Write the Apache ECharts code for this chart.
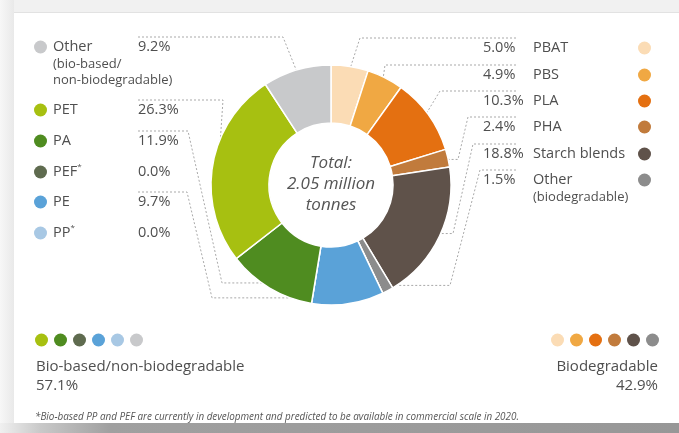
<!DOCTYPE html>
<html>
<head>
<meta charset="utf-8">
<title>Bioplastics production capacities by material type</title>
<script src="https://cdn.jsdelivr.net/npm/echarts@6/dist/echarts.min.js"></script>
<style>
  html, body { margin: 0; padding: 0; width: 679px; height: 433px; overflow: hidden; background: #f2f2f2; }
  #frameLeft { position: absolute; left: 0; top: 0; width: 14px; height: 433px; background: linear-gradient(to right, #f7f7f7, #e9e9e9); }
  #frameTop { position: absolute; left: 0; top: 0; width: 679px; height: 12px; background: #f1f1f1; border-bottom: 1px solid #e2e2e2; }
  #card { position: absolute; left: 14px; top: 13px; width: 665px; height: 410px; background: #ffffff; }
  #bottomBar { position: absolute; left: 0; top: 423px; width: 679px; height: 10px; background: linear-gradient(to right, #f0f0f0 0px, #c9c9c9 40px, #a0a0a0 110px, #979797 679px); }
  #chart { position: absolute; left: 0; top: 0; width: 679px; height: 433px; }
</style>
</head>
<body>
<div id="frameTop"></div>
<div id="frameLeft"></div>
<div id="card"></div>
<div id="bottomBar"></div>
<div id="chart"></div>
<script>
// Global production capacities of bioplastics by material type (share, %)
const biodegradableNames  = ['PBAT', 'PBS', 'PLA', 'PHA', 'Starch blends', 'Other'];
const biodegradableNotes  = ['', '', '', '', '', '(biodegradable)'];
const biodegradableShares = [5.0, 4.9, 10.3, 2.4, 18.8, 1.5];
const biodegradableColors = ['#fbdcb5', '#f0a843', '#e47011', '#c17b3c', '#5f524a', '#8c8c8c'];

const biobasedNames  = ['Other', 'PET', 'PA', 'PEF', 'PE', 'PP'];
const biobasedMarks  = ['', '', '', '*', '', '*'];
const biobasedNotes  = ['(bio-based/\nnon-biodegradable)', '', '', '', '', ''];
const biobasedShares = [9.2, 26.3, 11.9, 0.0, 9.7, 0.0];
const biobasedColors = ['#c8c9cb', '#a7c011', '#4f8c20', '#5f6b4f', '#5aa2d8', '#a8c8e4'];

// order of the dot rows under the chart
const biobasedLegendOrder = ['PET', 'PA', 'PEF', 'PE', 'PP', 'Other'];
const biodegradableLegendOrder = ['PBAT', 'PBS', 'PLA', 'PHA', 'Starch blends', 'Other'];

const totalLines = ['Total:', '2.05 million', 'tonnes'];
const groupTitles = ['Bio-based/non-biodegradable', 'Biodegradable'];
const footnote = '*Bio-based PP and PEF are currently in development and predicted to be available in commercial scale in 2020.';

// ---- layout ----
const CX = 331, CY = 185, R_IN = 62, R_OUT = 120;
const PULL = 0.95;           // where leader lines meet the ring
const TEXT = '#4f4f4f';
const FONT = '"Open Sans", "DejaVu Sans", sans-serif';
const NAME_SIZE = 14.5, SUP_SIZE = 8;

// label rows: text centre y, leader line elbow / knee x
const LEFT_ROWS = [
  { cy: 47,  elbow: 283, knee: null },
  { cy: 110, elbow: 223, knee: null },
  { cy: 141, elbow: 188, knee: 222 },
  { cy: 172, elbow: null, knee: null },
  { cy: 202, elbow: 187, knee: 212 },
  { cy: 233, elbow: null, knee: null }
];
const RIGHT_ROWS = [
  { cy: 48,  elbow: 360, knee: null },
  { cy: 75,  elbow: 385, knee: null },
  { cy: 101, elbow: 440, knee: null },
  { cy: 127, elbow: 468, knee: 458 },
  { cy: 154, elbow: 473, knee: 453 },
  { cy: 180, elbow: 480, knee: 450 }
];
const LEFT_X = 34, LEFT_VALUE_X = 138, LEFT_NAME_W = 85;
const RIGHT_X = 483, RIGHT_LINE_END = 516;

// ---- slices in clockwise order from 12 o'clock ----
const entries = [];
biodegradableNames.forEach((n, i) => entries.push({
  key: biodegradableNotes[i] ? n + ' ' + biodegradableNotes[i] : n,
  name: n, mark: '', note: biodegradableNotes[i], share: biodegradableShares[i],
  color: biodegradableColors[i], side: 'right', row: i
}));
for (let i = biobasedNames.length - 1; i >= 0; i--) {
  entries.push({
    key: biobasedNotes[i] ? biobasedNames[i] + ' ' + biobasedNotes[i].replace('\n', '') : biobasedNames[i],
    name: biobasedNames[i], mark: biobasedMarks[i], note: biobasedNotes[i], share: biobasedShares[i],
    color: biobasedColors[i], side: 'left', row: i
  });
}
const keyOf = (side, name) => entries.find(e => e.side === side && e.name === name).key;

// text measuring, used to keep the value column straight after a superscript mark
const measureCtx = document.createElement('canvas').getContext('2d');
function textWidth(str, size) {
  measureCtx.font = size + 'px ' + FONT;
  return measureCtx.measureText(str).width;
}

const rich = {
  gap:  { width: 6, height: 13 },
  ind:  { width: 19 },
  indr: { width: 50 },
  nm:   { fontFamily: FONT, fontSize: NAME_SIZE, color: TEXT, width: LEFT_NAME_W, lineHeight: 18 },
  nmS:  { fontFamily: FONT, fontSize: NAME_SIZE, color: TEXT, lineHeight: 18 },
  nmr:  { fontFamily: FONT, fontSize: NAME_SIZE, color: TEXT, width: 105, lineHeight: 18 },
  val:  { fontFamily: FONT, fontSize: NAME_SIZE, color: TEXT, lineHeight: 18 },
  valr: { fontFamily: FONT, fontSize: NAME_SIZE, color: TEXT, width: 50, lineHeight: 18 },
  sup:  { fontFamily: FONT, fontSize: SUP_SIZE, color: TEXT, verticalAlign: 'top', lineHeight: 12 },
  sub:  { fontFamily: FONT, fontSize: 13, color: TEXT, lineHeight: 16 }
};
entries.forEach((e, i) => {
  rich['d' + i] = { width: 13, height: 13, borderRadius: 6.5, backgroundColor: e.color };
  if (e.mark) {
    const rest = LEFT_NAME_W - textWidth(e.name, NAME_SIZE) - textWidth(e.mark, SUP_SIZE);
    rich['p' + i] = { width: Math.max(1, rest) };
  }
});

function labelText(i) {
  const e = entries[i];
  const v = e.share.toFixed(1) + '%';
  if (e.side === 'left') {
    let s = '{d' + i + '|}{gap|}' + (e.mark
      ? '{nmS|' + e.name + '}{sup|' + e.mark + '}{p' + i + '|}'
      : '{nm|' + e.name + '}') + '{val|' + v + '}';
    if (e.note) e.note.split('\n').forEach(l => { s += '\n{ind|}{sub|' + l + '}'; });
    return s;
  }
  let s = '{valr|' + v + '}{nmr|' + e.name + '}{d' + i + '|}';
  if (e.note) s += '\n{indr|}{sub|' + e.note + '}';
  return s;
}

const pieData = entries.map(e => ({
  name: e.key,
  value: e.share,
  itemStyle: { color: e.color },
  labelLine: { show: e.share > 0 }
}));

const chart = echarts.init(document.getElementById('chart'), null, { renderer: 'canvas' });

const bioTotal = biobasedShares.reduce((a, b) => a + b, 0).toFixed(1) + '%';
const degTotal = biodegradableShares.reduce((a, b) => a + b, 0).toFixed(1) + '%';

const legendBase = {
  orient: 'horizontal',
  icon: 'circle',
  itemWidth: 13,
  itemHeight: 13,
  itemGap: 6,
  padding: 0,
  top: 333.5,
  selectedMode: false,
  formatter: () => '',
  itemStyle: { borderWidth: 0 },
  textStyle: { fontSize: 1 }
};

chart.setOption({
  animation: false,
  backgroundColor: 'transparent',
  legend: [
    Object.assign({}, legendBase, { left: 35, data: biobasedLegendOrder.map(n => keyOf('left', n)) }),
    Object.assign({}, legendBase, { right: 20, data: biodegradableLegendOrder.map(n => keyOf('right', n)) })
  ],
  graphic: [
    { type: 'text', x: CX, y: CY - 1, silent: true,
      style: { text: totalLines.join('\n'), align: 'center', verticalAlign: 'middle',
               fontFamily: FONT, fontStyle: 'italic', fontSize: 17, lineHeight: 21, fill: '#555' } },
    { type: 'text', x: 36, y: 357, silent: true,
      style: { text: groupTitles[0] + '\n' + bioTotal, align: 'left', verticalAlign: 'top',
               fontFamily: FONT, fontSize: 15, lineHeight: 19, fill: TEXT } },
    { type: 'text', x: 658, y: 357, silent: true,
      style: { text: groupTitles[1] + '\n' + degTotal, align: 'right', verticalAlign: 'top',
               fontFamily: FONT, fontSize: 15, lineHeight: 19, fill: TEXT } },
    { type: 'text', x: 35, y: 417, silent: true,
      style: { text: footnote, align: 'left', verticalAlign: 'middle',
               fontFamily: FONT, fontStyle: 'italic', fontSize: 9.9, fill: '#555' } }
  ],
  series: [{
    type: 'pie',
    center: [CX, CY],
    radius: [R_IN, R_OUT],
    startAngle: 90,
    clockwise: true,
    avoidLabelOverlap: false,
    minShowLabelAngle: 0,
    emphasis: { disabled: true },
    itemStyle: { borderColor: '#ffffff', borderWidth: 1.5 },
    label: {
      show: true,
      position: 'outside',
      formatter: p => labelText(p.dataIndex),
      rich: rich
    },
    labelLine: {
      show: true,
      length: 10,
      length2: 10,
      lineStyle: { color: '#a9a9a9', width: 1, type: [2, 2] }
    },
    labelLayout: function (params) {
      const e = entries[params.dataIndex];
      const row = (e.side === 'left' ? LEFT_ROWS : RIGHT_ROWS)[e.row];
      const out = {
        x: e.side === 'left' ? LEFT_X : RIGHT_X,
        y: row.cy - 9,
        align: 'left',
        verticalAlign: 'top'
      };
      const pts = params.labelLinePoints;
      if (pts && row.elbow != null) {
        const ax = CX + (pts[0][0] - CX) * PULL;
        const ay = CY + (pts[0][1] - CY) * PULL;
        const ly = row.cy - 10;
        const start = e.side === 'left' ? LEFT_VALUE_X : RIGHT_LINE_END;
        const path = [[start, ly], [row.elbow, ly]];
        if (row.knee != null) path.push([row.knee, ay]);
        path.push([ax, ay]);
        out.labelLinePoints = path;
      }
      return out;
    },
    data: pieData
  }]
});
</script>
</body>
</html>
